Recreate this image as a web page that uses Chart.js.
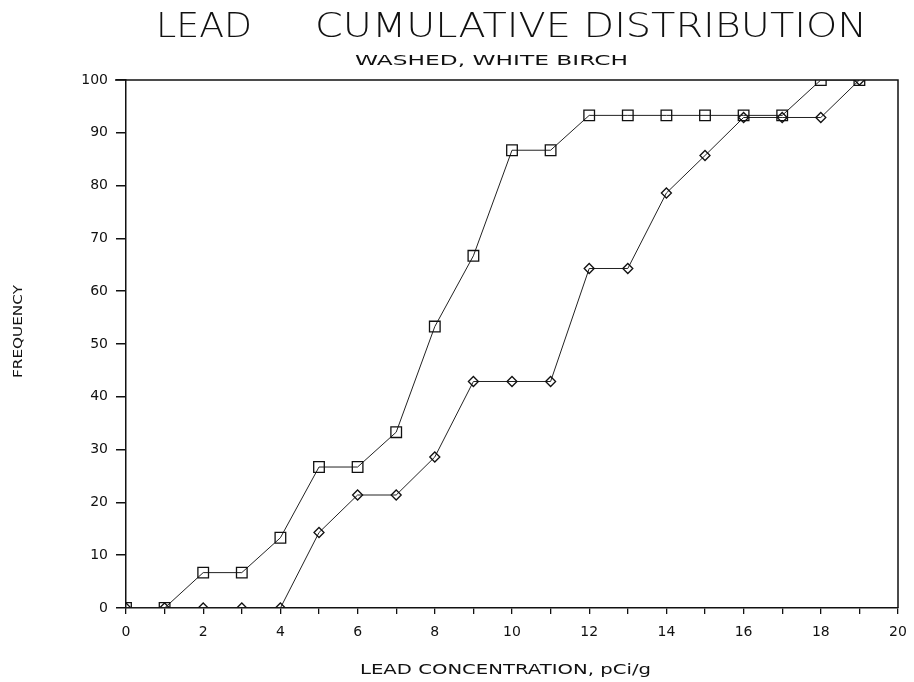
<!DOCTYPE html>
<html>
<head>
<meta charset="utf-8">
<script src="https://cdn.jsdelivr.net/npm/chart.js@4"></script>
<style>
  html, body { margin: 0; padding: 0; background: #fff; }
  #wrap { width: 914px; height: 682px; }
</style>
</head>
<body>
<div id="wrap"><canvas id="c" width="914" height="682"></canvas></div>
<script>
// Lead concentration (pCi/g) bins
const concentration = [0, 1, 2, 3, 4, 5, 6, 7, 8, 9, 10, 11, 12, 13, 14, 15, 16, 17, 18, 19];
// Cumulative frequency (%) — square-marker series
const freqSquares = [0, 0, 6.7, 6.7, 13.3, 26.7, 26.7, 33.3, 53.3, 66.7, 86.7, 86.7, 93.3, 93.3, 93.3, 93.3, 93.3, 93.3, 100, 100];
// Cumulative frequency (%) — diamond-marker series
const freqDiamonds = [0, 0, 0, 0, 0, 14.3, 21.4, 21.4, 28.6, 42.9, 42.9, 42.9, 64.3, 64.3, 78.6, 85.7, 92.9, 92.9, 92.9, 100];

const xTicks = [0, 2, 4, 6, 8, 10, 12, 14, 16, 18, 20];
const yTicks = [0, 10, 20, 30, 40, 50, 60, 70, 80, 90, 100];

const titleMain = 'LEAD';
const titleRest = 'CUMULATIVE DISTRIBUTION';
const subtitle = 'WASHED, WHITE BIRCH';
const xTitle = 'LEAD CONCENTRATION, pCi/g';
const yTitle = 'FREQUENCY';

const INK = '#111';
const LABEL_FONT = { family: '"DejaVu Sans", sans-serif', size: 14 };

function pts(ys) { return concentration.map((x, i) => ({ x: x, y: ys[i] })); }

// Draws a line of text stretched to span [x1, x2]
function spanText(ctx, text, x1, x2, y, font) {
  ctx.font = font;
  const w = ctx.measureText(text).width;
  ctx.save();
  ctx.translate(x1, y);
  ctx.scale((x2 - x1) / w, 1);
  ctx.textAlign = 'left';
  ctx.textBaseline = 'alphabetic';
  ctx.fillText(text, 0, 0);
  ctx.restore();
}

const decor = {
  id: 'decor',
  afterDraw(chart) {
    const ctx = chart.ctx;
    const a = chart.chartArea;
    ctx.save();
    ctx.fillStyle = INK;
    // frame: top and right edges
    ctx.strokeStyle = INK;
    ctx.lineWidth = 1.5;
    ctx.beginPath();
    ctx.moveTo(a.left - 11, a.top);
    ctx.lineTo(a.right, a.top);
    ctx.lineTo(a.right, a.bottom);
    ctx.stroke();
    // titles
    const thin = '200 34px "DejaVu Sans", sans-serif';
    spanText(ctx, titleMain, 156, 252, 37, thin);
    spanText(ctx, titleRest, 315, 867, 37, thin);
    spanText(ctx, subtitle, 355, 628, 65, '13.5px "DejaVu Sans", sans-serif');
    spanText(ctx, xTitle, 360, 651, 674, '14px "DejaVu Sans", sans-serif');
    // rotated y title
    ctx.save();
    ctx.translate(22, 0);
    ctx.rotate(-Math.PI / 2);
    spanText(ctx, yTitle, -378, -285, 0, '13px "DejaVu Sans", sans-serif');
    ctx.restore();
    ctx.restore();
  }
};

new Chart(document.getElementById('c'), {
  type: 'line',
  data: {
    datasets: [
      {
        label: 'Squares',
        data: pts(freqSquares),
        borderColor: '#222',
        borderWidth: 1,
        pointStyle: 'rect',
        pointRadius: 7.5,
        pointBorderWidth: 1.3,
        pointBorderColor: INK,
        pointBackgroundColor: 'rgba(255,255,255,0)',
        tension: 0
      },
      {
        label: 'Diamonds',
        data: pts(freqDiamonds),
        borderColor: '#222',
        borderWidth: 1,
        pointStyle: 'rectRot',
        pointRadius: 5,
        pointBorderWidth: 1.3,
        pointBorderColor: INK,
        pointBackgroundColor: 'rgba(255,255,255,0)',
        tension: 0
      }
    ]
  },
  options: {
    responsive: false,
    animation: false,
    layout: { padding: { top: 80, right: 16, left: 0, bottom: 0 } },
    plugins: {
      legend: { display: false },
      title: { display: false },
      tooltip: { enabled: false }
    },
    scales: {
      x: {
        type: 'linear',
        min: 0,
        max: 20,
        afterBuildTicks(scale) {
          scale.ticks = concentration.concat([20]).map(v => ({ value: v }));
        },
        afterFit(scale) {
          scale.height = 74;
          scale.paddingLeft = 0;
          scale.paddingRight = 0;
        },
        ticks: {
          autoSkip: false,
          maxRotation: 0,
          padding: 10,
          color: INK,
          font: LABEL_FONT,
          callback: (v) => (xTicks.includes(v) ? String(v) : '')
        },
        grid: { drawOnChartArea: false, drawTicks: true, tickLength: 6, color: INK, lineWidth: 1.3 },
        border: { display: true, color: INK, width: 1.5 }
      },
      y: {
        type: 'linear',
        min: 0,
        max: 100,
        afterBuildTicks(scale) {
          scale.ticks = yTicks.map(v => ({ value: v }));
        },
        afterFit(scale) {
          scale.width = 126;
          scale.paddingTop = 0;
          scale.paddingBottom = 0;
        },
        ticks: {
          padding: 8,
          color: INK,
          font: LABEL_FONT
        },
        grid: { drawOnChartArea: false, drawTicks: true, tickLength: 10, color: INK, lineWidth: 1.5 },
        border: { display: true, color: INK, width: 1.5 }
      }
    }
  },
  plugins: [decor]
});
</script>
</body>
</html>
